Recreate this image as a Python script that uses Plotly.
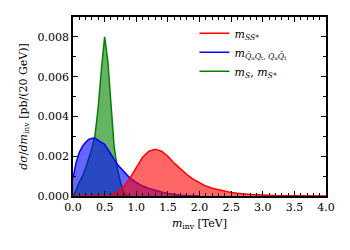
import plotly.graph_objects as go

# ---- data (TeV, pb/(20 GeV)) ----
red_x = [0, 0.5, 0.6, 0.7, 0.8, 0.9, 1.0, 1.1, 1.2, 1.3, 1.4, 1.5, 1.6, 1.7, 1.8, 1.9, 2.0,
         2.1, 2.2, 2.3, 2.4, 2.5, 2.6, 2.7, 2.8, 2.9, 3.0, 3.2, 3.5, 4.0]
red_y = [0, 0, 0.00003, 0.00018, 0.00045, 0.0009, 0.0014, 0.00195, 0.00225, 0.00235, 0.00225,
         0.0020, 0.00165, 0.00135, 0.00108, 0.00085, 0.00066, 0.0005, 0.00039, 0.00031, 0.00024,
         0.00018, 0.00014, 0.0001, 0.00008, 0.00006, 0.00004, 0.00002, 0.00001, 0]

blue_x = [0, 0.05, 0.1, 0.15, 0.2, 0.25, 0.3, 0.35, 0.4, 0.45, 0.5, 0.6, 0.7, 0.8, 0.9, 1.0,
          1.1, 1.2, 1.3, 1.4, 1.5, 1.6, 1.7, 1.8, 2.0]
blue_y = [0.0009, 0.0017, 0.0022, 0.0025, 0.0027, 0.00285, 0.0029, 0.0029, 0.0028, 0.0027,
          0.0026, 0.0021, 0.0016, 0.00125, 0.0009, 0.00068, 0.0005, 0.00038, 0.00028, 0.0002,
          0.00013, 0.00008, 0.00004, 0.00002, 0]

green_x = [0, 0.05, 0.1, 0.15, 0.2, 0.25, 0.3, 0.35, 0.4, 0.45, 0.5, 0.55, 0.6, 0.65, 0.7,
           0.75, 0.8, 0.85, 0.9]
green_y = [0, 0.0003, 0.0007, 0.001, 0.0014, 0.0019, 0.0024, 0.0031, 0.0045, 0.0064, 0.008,
           0.0068, 0.0046, 0.0025, 0.0014, 0.0007, 0.0002, 0.00003, 0]

labels = {
    "red": "<i>m</i><sub><i>SS</i>*</sub>",
    "blue": "<i>m</i><sub><i>Q̄</i><sub>u</sub><i>Q</i><sub>t</sub>, <i>Q</i><sub>u</sub><i>Q̄</i><sub>t</sub></sub>",
    "green": "<i>m</i><sub><i>S</i></sub>, <i>m</i><sub><i>S</i>*</sub>",
}

FONT = "DejaVu Serif"
fig = go.Figure()

# filled areas in drawing order: green, blue, red
for x, y, line, fill in [
    (green_x, green_y, "#008000", "rgba(0,128,0,0.6)"),
    (blue_x, blue_y, "#0000ff", "rgba(0,0,255,0.6)"),
    (red_x, red_y, "#ff0000", "rgba(255,0,0,0.6)"),
]:
    fig.add_trace(go.Scatter(x=x, y=y, mode="lines", fill="tozeroy", fillcolor=fill,
                             line=dict(color=line, width=1.5), showlegend=False,
                             hoverinfo="skip"))

# legend-only line entries
for key, color in [("red", "#ff0000"), ("blue", "#0000ff"), ("green", "#008000")]:
    fig.add_trace(go.Scatter(x=[None], y=[None], mode="lines", name=labels[key],
                             line=dict(color=color, width=1.5)))

axis_common = dict(showline=True, linecolor="black", linewidth=1.5, mirror="allticks",
                   ticks="inside", tickcolor="black", ticklen=5, showgrid=False,
                   zeroline=False, tickfont=dict(family=FONT, size=11, color="black"))

fig.update_xaxes(range=[0, 4.0], dtick=0.5, tickformat=".1f",
                 minor=dict(ticks="inside", dtick=0.1, ticklen=3, tickcolor="black"),
                 title=dict(text="<i>m</i><sub>inv</sub> [TeV]",
                            font=dict(family=FONT, size=11, color="black"), standoff=6),
                 **axis_common)
fig.update_yaxes(range=[0, 0.009], dtick=0.002, tickformat=".3f",
                 minor=dict(ticks="inside", dtick=0.001, ticklen=3, tickcolor="black"),
                 title=dict(text="<i>dσ</i>/<i>dm</i><sub>inv</sub> [pb/(20 GeV)]",
                            font=dict(family=FONT, size=11, color="black"), standoff=8),
                 **axis_common)

# page body has an 8px default margin, so the figure is 8px smaller and offset
fig.update_layout(
    width=342, height=242,
    margin=dict(l=65, r=24, t=7, b=54),
    plot_bgcolor="white", paper_bgcolor="white",
    font=dict(family=FONT, size=11, color="black"),
    legend=dict(x=0.48, y=0.99, xanchor="left", yanchor="top", bgcolor="rgba(0,0,0,0)",
                font=dict(family=FONT, size=11), tracegroupgap=0, itemwidth=30),
)

fig.write_html("out.html")
